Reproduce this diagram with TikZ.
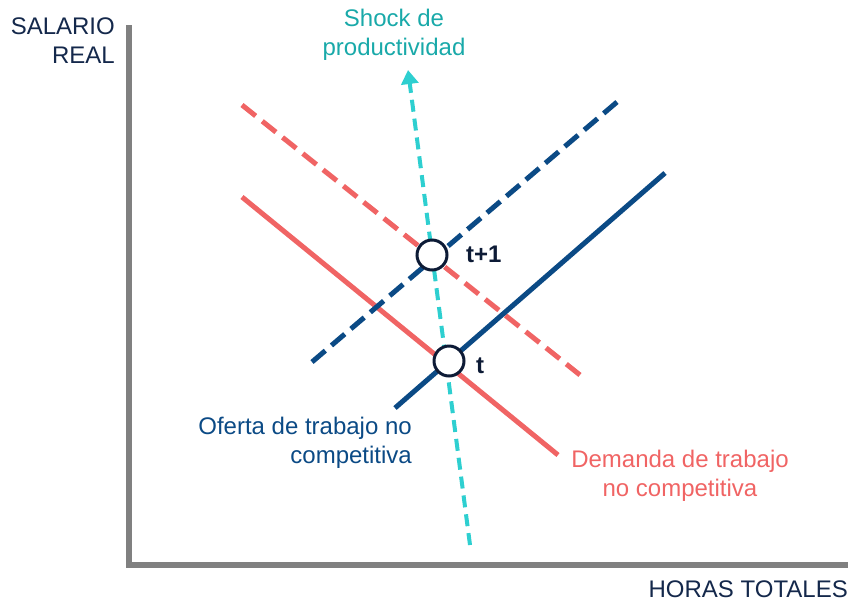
\documentclass[tikz,border=0pt]{standalone}
\usepackage{fontspec}
\setmainfont{Liberation Sans}
\usetikzlibrary{arrows.meta}
\definecolor{navy}{HTML}{14284B}
\definecolor{ofblue}{HTML}{0B4A85}
\definecolor{dred}{HTML}{F06464}
\definecolor{cyanl}{HTML}{2ECFD0}
\definecolor{teal}{HTML}{19A9A9}
\definecolor{axisgray}{HTML}{808080}
\definecolor{ringnavy}{HTML}{0D1B36}
\tikzset{
  axisline/.style={draw=axisgray, line width=6pt},
  supply/.style={draw=ofblue, line width=5pt},
  demand/.style={draw=dred, line width=5pt},
  demanddash/.style={dash pattern=on 17.5pt off 8.44pt},
  supplydash/.style={dash pattern=on 17.5pt off 8.05pt},
  shockline/.style={draw=cyanl, line width=4pt, dash pattern=on 12pt off 7pt},
  eqpoint/.style={circle, draw=ringnavy, fill=white, line width=3pt, minimum size=30pt, inner sep=0pt},
  lbl/.style={inner sep=0pt, font=\fontsize{24}{29}\selectfont},
  ptlbl/.style={inner sep=0pt, font=\fontsize{24}{29}\selectfont\bfseries, text=ringnavy}
}
\begin{document}
\begin{tikzpicture}[x=1pt,y=-1pt]
\useasboundingbox (0,0) rectangle (850,603);
% axes
\coordinate (ytop) at (129,25);
\coordinate (origin) at (129,565);
\coordinate (xend) at (848,565);
\draw[axisline] (ytop) -- (origin) -- (xend);
% curve endpoints
\coordinate (d1a) at (242,105);
\coordinate (d1b) at (580,375);
\coordinate (d0a) at (242,197);
\coordinate (d0b) at (558,455);
\coordinate (s1a) at (312,362);
\coordinate (s1b) at (617,102);
\coordinate (s0a) at (395,408);
\coordinate (s0b) at (665,173);
\coordinate (sha) at (470,545);
\coordinate (shb) at (408,70);
% lines
\draw[demand, demanddash] (d1a) -- (d1b);
\draw[demand] (d0a) -- (d0b);
\draw[supply, supplydash] (s1a) -- (s1b);
\draw[supply] (s0a) -- (s0b);
\draw[shockline, -{Triangle[length=14pt,width=17pt]}] (sha) -- (shb);
% equilibrium points
\node[eqpoint] (t1) at (432,255) {};
\node[eqpoint] (t0) at (449,361) {};
\node[ptlbl, anchor=west] (t1l) at (466,254) {t+1};
\node[ptlbl, anchor=west] (t0l) at (476,366) {t};
% labels
\node[lbl, text=navy, align=right, anchor=north east] (ylab) at (115,18) {SALARIO\\REAL};
\node[lbl, text=navy, anchor=north east] (xlab) at (848,581) {HORAS TOTALES};
\node[lbl, text=teal, align=center, anchor=north] (shock) at (394,9) {Shock de\\productividad};
\node[lbl, text=ofblue, align=right, anchor=north east] (oflab) at (412,417) {Oferta de trabajo no\\competitiva};
\node[lbl, text=dred, align=center, anchor=north] (dmlab) at (680,450) {Demanda de trabajo\\no competitiva};
\end{tikzpicture}
\end{document}
